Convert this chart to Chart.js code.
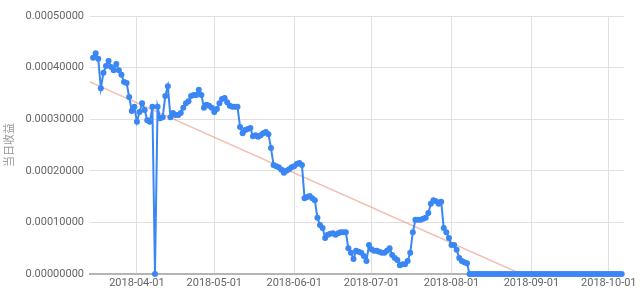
<!DOCTYPE html>
<html>
<head>
<meta charset="utf-8">
<script src="https://cdn.jsdelivr.net/npm/chart.js@4/dist/chart.umd.min.js"></script>
<style>
  html, body { margin: 0; padding: 0; background: #fff; }
  #wrap { width: 640px; height: 299px; }
</style>
</head>
<body>
<div id="wrap"><canvas id="chart"></canvas></div>
<script>
// first data day, every later value is one day after the previous one
const startDate = '2018-03-15';

// 当日收益, one value per day (x 1e-5)
const dailyValues = [
    41.9, 42.8, 41.7, 36.0, 39.0, 40.3, 41.3, 40.1, 39.5, 40.7,
    39.5, 38.6, 37.2, 37.0, 34.3, 31.6, 32.4, 29.5, 31.4, 33.1,
    31.8, 29.8, 29.5, 32.4, 0, 32.4, 30.2, 30.4, 34.5, 36.4,
    30.4, 31.2, 30.8, 30.8, 31.2, 32.2, 33.1, 33.5, 34.5, 34.7,
    34.7, 35.7, 34.7, 32.2, 32.8, 32.6, 32.2, 31.4, 32.0, 33.1,
    33.9, 34.1, 33.3, 32.6, 32.4, 32.4, 32.4, 28.5, 27.3, 27.9,
    28.1, 28.3, 26.7, 26.9, 26.6, 26.9, 27.3, 27.5, 27.1, 24.4,
    21.1, 20.9, 20.7, 20.2, 19.6, 20.0, 20.3, 20.7, 20.9, 21.3,
    21.5, 21.1, 14.7, 14.9, 15.1, 14.7, 14.3, 10.9, 9.5, 8.9,
    7.0, 7.6, 7.8, 7.9, 7.6, 7.9, 8.1, 8.1, 8.1, 5.0,
    4.1, 2.9, 4.5, 4.3, 4.1, 3.5, 2.5, 5.6, 4.8, 4.5,
    4.5, 4.3, 4.1, 4.1, 4.5, 5.0, 3.7, 3.1, 2.7, 1.7,
    1.9, 1.9, 2.5, 4.1, 8.1, 10.5, 10.5, 10.5, 10.7, 10.9,
    11.8, 13.6, 14.3, 14.1, 13.6, 14.0, 8.9, 8.1, 7.0, 5.6,
    5.6, 4.7, 3.1, 2.5, 2.3, 2.1, 0, 0, 0, 0,
    0, 0, 0, 0, 0, 0, 0, 0, 0, 0,
    0, 0, 0, 0, 0, 0, 0, 0, 0, 0,
    0, 0, 0, 0, 0, 0, 0, 0, 0, 0,
    0, 0, 0, 0, 0, 0, 0, 0, 0, 0,
    0, 0, 0, 0, 0, 0, 0, 0, 0, 0,
    0, 0, 0, 0, 0, 0
];

// trend line: value at the left edge, date where it reaches zero
const trendStartValue = 37.2;
const trendZeroDate = '2018-08-28';

// axis range and labels
const axisStartDate = '2018-03-14';
const axisEndDate = '2018-10-07';
const monthTicks = ['2018-04-01', '2018-05-01', '2018-06-01', '2018-07-01', '2018-08-01', '2018-09-01', '2018-10-01'];
const yTicks = [0, 0.0001, 0.0002, 0.0003, 0.0004, 0.0005];

const dayOf = (s) => (Date.parse(s) - Date.parse(startDate)) / 86400000;

const linePoints = dailyValues.map((v, i) => ({ x: i, y: v * 1e-5 }));
const trendPoints = [
    { x: dayOf(axisStartDate) - 0.2, y: trendStartValue * 1e-5 },
    { x: dayOf(trendZeroDate), y: 0 }
];

const fontFamily = 'Roboto, Arial, "Noto Sans CJK SC", sans-serif';

new Chart(document.getElementById('chart'), {
    type: 'line',
    data: {
        datasets: [
            {
                label: '当日收益',
                data: linePoints,
                borderColor: '#3a86f4',
                backgroundColor: '#3a86f4',
                borderWidth: 2,
                pointRadius: 3,
                pointBorderWidth: 0,
                tension: 0,
                clip: 4,
                order: 1
            },
            {
                label: 'trend',
                data: trendPoints,
                borderColor: 'rgba(232, 150, 130, 0.6)',
                borderWidth: 1.5,
                pointRadius: 0,
                tension: 0,
                order: 2
            }
        ]
    },
    options: {
        responsive: true,
        maintainAspectRatio: false,
        animation: false,
        layout: { padding: { top: 16, right: 16, left: 0, bottom: 0 } },
        plugins: {
            legend: { display: false },
            tooltip: { enabled: false }
        },
        scales: {
            x: {
                type: 'linear',
                min: dayOf(axisStartDate) - 0.2,
                max: dayOf(axisEndDate) - 0.2,
                afterBuildTicks: (scale) => {
                    scale.ticks = monthTicks.map(d => ({ value: dayOf(d) }));
                },
                afterFit: (scale) => { scale.height = 25; },
                ticks: {
                    autoSkip: false,
                    maxRotation: 0,
                    padding: 3,
                    color: '#666',
                    font: { family: fontFamily, size: 11 },
                    callback: (v, i) => monthTicks[i]
                },
                grid: { color: '#e0e0e0', drawTicks: false },
                border: { display: true, color: '#b5b5b5', width: 2 }
            },
            y: {
                min: 0,
                max: 0.0005,
                afterBuildTicks: (scale) => {
                    scale.ticks = yTicks.map(v => ({ value: v }));
                },
                afterFit: (scale) => { scale.width = 90; },
                ticks: {
                    padding: 6,
                    color: '#666',
                    font: { family: fontFamily, size: 11 },
                    callback: (v) => Number(v).toFixed(8)
                },
                grid: { color: '#e0e0e0', drawTicks: false },
                border: { display: false },
                title: {
                    display: true,
                    text: '当日收益',
                    color: '#999',
                    font: { family: fontFamily, size: 11 },
                    padding: { top: 4, bottom: 4 }
                }
            }
        }
    }
});
</script>
</body>
</html>
